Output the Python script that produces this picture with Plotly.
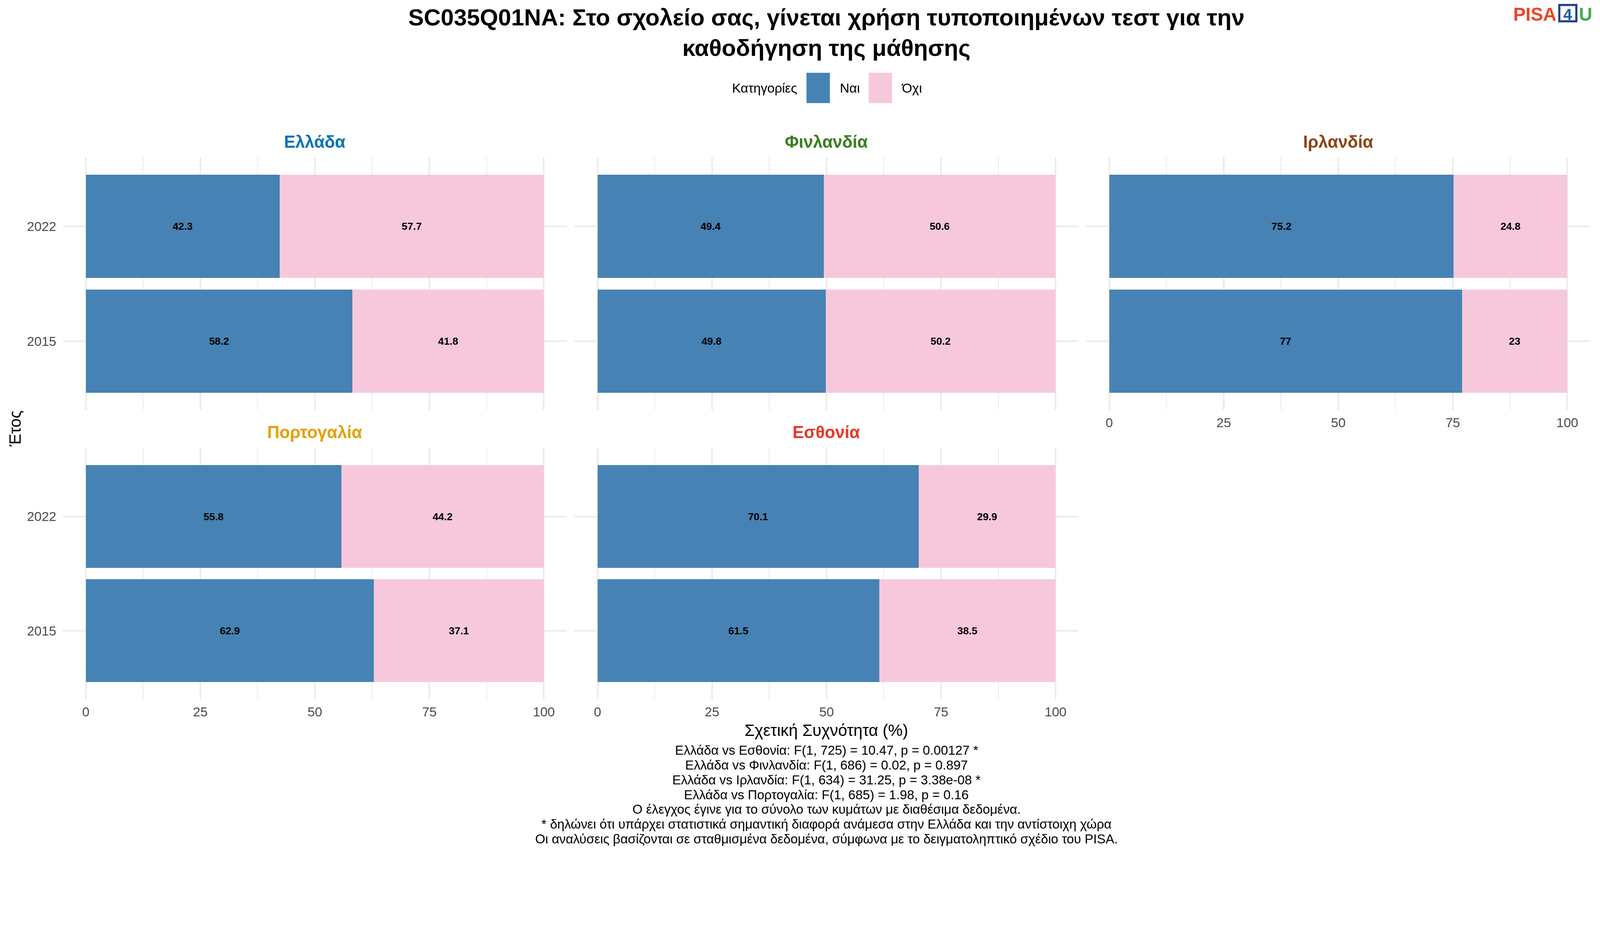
import plotly.graph_objects as go

# data
countries = ["Ελλάδα", "Φινλανδία", "Ιρλανδία", "Πορτογαλία", "Εσθονία"]
country_colors = ["#0072B2", "#3A7D22", "#8B4513", "#E69F00", "#E8382A"]
years = ["2015", "2022"]
nai_2015 = [58.2, 49.8, 77.0, 62.9, 61.5]
nai_2022 = [42.3, 49.4, 75.2, 55.8, 70.1]
oxi_2015 = [41.8, 50.2, 23.0, 37.1, 38.5]
oxi_2022 = [57.7, 50.6, 24.8, 44.2, 29.9]
x_ticks = [0, 25, 50, 75, 100]

title_text = ("SC035Q01NA: Στο σχολείο σας, γίνεται χρήση τυποποιημένων τεστ για την<br>"
              "καθοδήγηση της μάθησης")
notes = [
    "Ελλάδα vs Εσθονία: F(1, 725) = 10.47, p = 0.00127 *",
    "Ελλάδα vs Φινλανδία: F(1, 686) = 0.02, p = 0.897",
    "Ελλάδα vs Ιρλανδία: F(1, 634) = 31.25, p = 3.38e-08 *",
    "Ελλάδα vs Πορτογαλία: F(1, 685) = 1.98, p = 0.16",
    "Ο έλεγχος έγινε για το σύνολο των κυμάτων με διαθέσιμα δεδομένα.",
    "* δηλώνει ότι υπάρχει στατιστικά σημαντική διαφορά ανάμεσα στην Ελλάδα και την αντίστοιχη χώρα",
    "Οι αναλύσεις βασίζονται σε σταθμισμένα δεδομένα, σύμφωνα με το δειγματοληπτικό σχέδιο του PISA.",
]

FONT = "Liberation Sans, Arial, sans-serif"
BLUE = "#4682B4"
PINK = "#F7C8DC"
GRID = "#EBEBEB"

# the page is photographed at a 1.1 pixel ratio with the default 8px body margin,
# so layout is planned in picture pixels and converted to css pixels here
S = 1.1
M = 8
W = int(4500 / S) - 2 * M
H = int(2400 / S) - 2 * M


def fx(v):
    return (v / S - M) / W


def fy(v):
    return 1 - (v / S - M) / H


def fs(v):
    return v / S


# panel layout in picture pixels: (left, right) and (top, bottom)
cols = [(177, 1596), (1618, 3037), (3059, 4478)]
rows = [(443, 1154), (1261, 1968)]
positions = [(0, 0), (0, 1), (0, 2), (1, 0), (1, 1)]

fig = go.Figure()
annotations = []

for i, country in enumerate(countries):
    r, c = positions[i]
    ax = "" if i == 0 else str(i + 1)
    for name, vals, colr in [("Ναι", [nai_2015[i], nai_2022[i]], BLUE),
                             ("Όχι", [oxi_2015[i], oxi_2022[i]], PINK)]:
        fig.add_trace(go.Bar(
            y=years, x=vals, orientation="h", name=name,
            marker=dict(color=colr, line=dict(width=0)),
            texttemplate="<b>%{x}</b>", textposition="inside", insidetextanchor="middle",
            textangle=0, textfont=dict(family=FONT, size=fs(29), color="black"),
            xaxis="x" + ax, yaxis="y" + ax, showlegend=False,
        ))

    x0, x1 = cols[c]
    y0, y1 = rows[r]
    show_x = (r == 1) or (c == 2)
    show_y = c == 0
    fig.layout["xaxis" + ax] = dict(
        domain=[fx(x0), fx(x1)], anchor="y" + ax, range=[-5, 105],
        tickvals=x_ticks, showticklabels=show_x, ticks="",
        tickfont=dict(family=FONT, size=fs(37), color="#4D4D4D"), ticklabelstandoff=9,
        showgrid=True, gridcolor=GRID, gridwidth=fs(4), zeroline=False, showline=False,
        minor=dict(dtick=12.5, tick0=0, showgrid=True, gridcolor=GRID, gridwidth=fs(2)),
        fixedrange=True,
    )
    fig.layout["yaxis" + ax] = dict(
        domain=[fy(y1), fy(y0)], anchor="x" + ax, type="category",
        categoryorder="array", categoryarray=years, range=[-0.6, 1.6],
        showticklabels=show_y, ticks="",
        tickfont=dict(family=FONT, size=fs(37), color="#4D4D4D"), ticklabelstandoff=16,
        showgrid=True, gridcolor=GRID, gridwidth=fs(4), zeroline=False, showline=False,
        fixedrange=True,
    )
    annotations.append(dict(
        text="<b>" + country + "</b>", x=fx((x0 + x1) / 2), y=fy(y0 - 44),
        xref="paper", yref="paper", showarrow=False, xanchor="center", yanchor="middle",
        font=dict(family=FONT, size=fs(48), color=country_colors[i]),
    ))

center_x = fx((cols[0][0] + cols[2][1]) / 2)

# title
annotations.append(dict(
    text="<b>" + title_text + "</b>", x=center_x, y=fy(10), xref="paper", yref="paper",
    showarrow=False, xanchor="center", yanchor="top", align="center",
    font=dict(family=FONT, size=fs(66), color="black"),
))

# axis titles
annotations.append(dict(
    text="Σχετική Συχνότητα (%)", x=center_x, y=fy(2055), xref="paper", yref="paper",
    showarrow=False, xanchor="center", yanchor="middle",
    font=dict(family=FONT, size=fs(46), color="black"),
))
annotations.append(dict(
    text="Έτος", x=fx(42), y=fy(1207), xref="paper", yref="paper", textangle=-90,
    showarrow=False, xanchor="center", yanchor="middle",
    font=dict(family=FONT, size=fs(46), color="black"),
))

# notes under the chart, one line each to keep the tight line spacing
for k, line in enumerate(notes):
    annotations.append(dict(
        text=line, x=center_x, y=fy(2112 + 41.5 * k), xref="paper", yref="paper",
        showarrow=False, xanchor="center", yanchor="middle", align="center",
        font=dict(family=FONT, size=fs(36.5), color="black"),
    ))

# legend drawn by hand so the keys match the large square keys of the original
shapes = [
    dict(type="rect", xref="paper", yref="paper", x0=fx(2271), x1=fx(2337),
         y0=fy(290), y1=fy(205), fillcolor=BLUE, line=dict(width=0)),
    dict(type="rect", xref="paper", yref="paper", x0=fx(2446), x1=fx(2512),
         y0=fy(290), y1=fy(205), fillcolor=PINK, line=dict(width=0)),
    # frame of the "4" in the PISA4U logo
    dict(type="rect", xref="paper", yref="paper", x0=fx(4391), x1=fx(4439),
         y0=fy(60), y1=fy(14), fillcolor="rgba(0,0,0,0)",
         line=dict(color="#243F8C", width=fs(6))),
]
for label, xpos, anchor in [("Κατηγορίες", 2247, "right"), ("Ναι", 2363, "left"), ("Όχι", 2536, "left")]:
    annotations.append(dict(
        text=label, x=fx(xpos), y=fy(248), xref="paper", yref="paper",
        showarrow=False, xanchor=anchor, yanchor="middle",
        font=dict(family=FONT, size=fs(37), color="black"),
    ))

# PISA4U logo
logo_y = fy(9)
annotations.append(dict(
    text="<b>PISA</b>", x=fx(4385), y=logo_y, xref="paper", yref="paper",
    showarrow=False, xanchor="right", yanchor="top",
    font=dict(family=FONT, size=fs(52), color="#EE4527"),
))
annotations.append(dict(
    text="<b>4</b>", x=fx(4415), y=fy(14), xref="paper", yref="paper",
    showarrow=False, xanchor="center", yanchor="top",
    font=dict(family=FONT, size=fs(44), color="#1D5AA5"),
))
annotations.append(dict(
    text="<b>U</b>", x=fx(4444), y=logo_y, xref="paper", yref="paper",
    showarrow=False, xanchor="left", yanchor="top",
    font=dict(family=FONT, size=fs(52), color="#40AE49"),
))

fig.update_layout(
    width=W, height=H, barmode="stack", bargap=0.1, showlegend=False,
    margin=dict(l=0, r=0, t=0, b=0),
    paper_bgcolor="white", plot_bgcolor="white",
    font=dict(family=FONT, color="black"),
    annotations=annotations, shapes=shapes,
)

fig.write_html("out.html")
